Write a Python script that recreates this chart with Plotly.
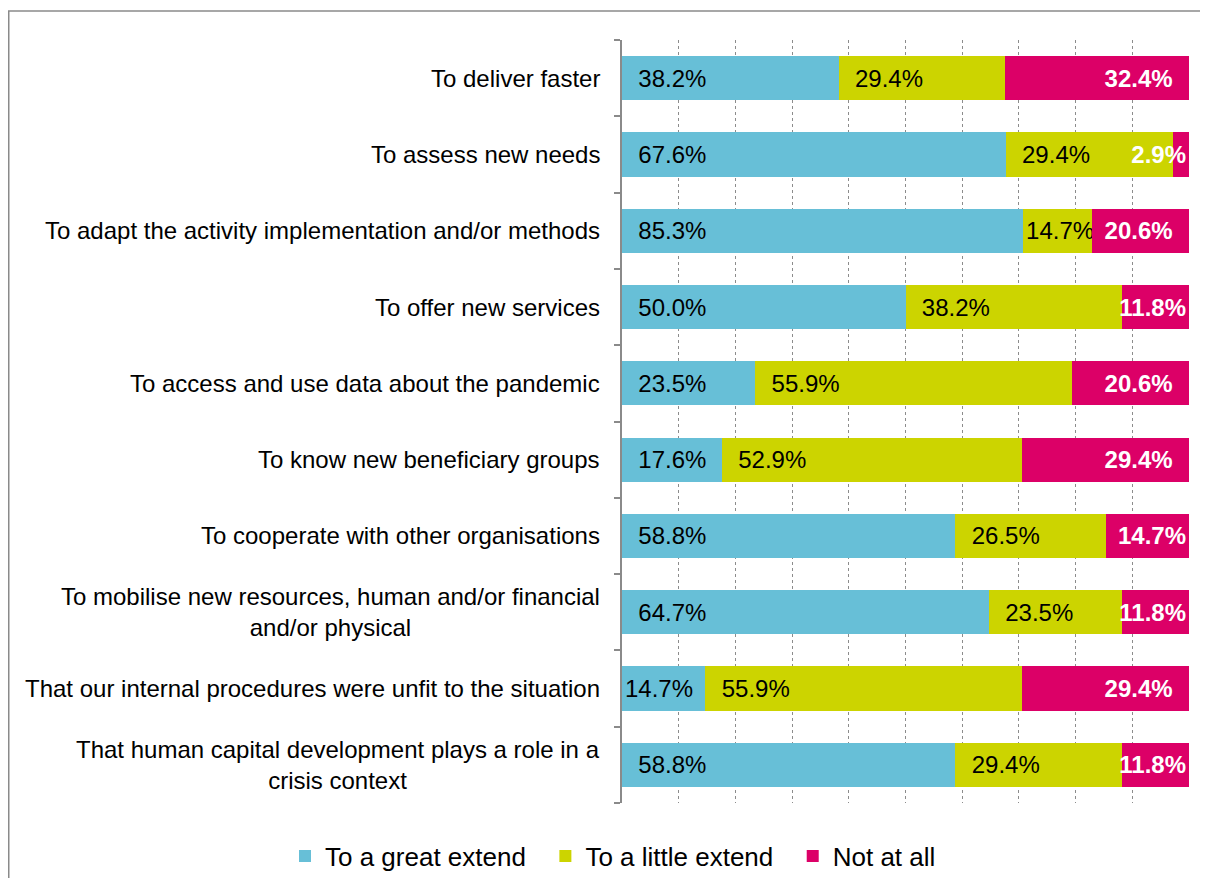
import plotly.graph_objects as go

categories = [
    "To deliver faster",
    "To assess new needs",
    "To adapt the activity implementation and/or methods",
    "To offer new services",
    "To access and use data about the pandemic",
    "To know new beneficiary groups",
    "To cooperate with other organisations",
    "To mobilise new resources, human and/or financial<br>and/or physical",
    "That our internal procedures were unfit to the situation",
    "That human capital development plays a role in a<br>crisis context",
]
great = [38.2, 67.6, 85.3, 50.0, 23.5, 17.6, 58.8, 64.7, 14.7, 58.8]
little = [29.4, 29.4, 14.7, 38.2, 55.9, 52.9, 26.5, 23.5, 55.9, 29.4]
notatall = [32.4, 2.9, 20.6, 11.8, 20.6, 29.4, 14.7, 11.8, 29.4, 11.8]
series_names = ["To a great extend", "To a little extend", "Not at all"]

BLUE = "#67BFD7"
YELLOW = "#CCD400"
RED = "#DC0067"
FONT = "Liberation Sans, Arial, sans-serif"
VSIZE = 24

# figure is placed 8px into the page by the body margin
W, H = 1192, 870
ML, MR, MT, MB = 614, 11, 32, 75
PW = W - ML - MR
PH = H - MT - MB

totals = [a + b + c for a, b, c in zip(great, little, notatall)]
NB = "\u00a0"


def label(v, tot, bold=False, end=False):
    s = f"{v:.1f}%"
    seg_px = v / tot * PW
    # approximate text width (Arial metrics: digits .556, '.' .278, '%' .889)
    tw = (0.556 * (len(s) - 2) + 0.278 + 0.889) * VSIZE
    pad = NB * 2 if tw + 2 * 0.278 * VSIZE + 4 < seg_px else ""
    core = f"<b>{s}</b>" if bold else s
    return core + pad if end else pad + core


ykeys = list(range(len(categories)))

fig = go.Figure()
fig.add_trace(go.Bar(
    y=ykeys, x=great, name=series_names[0] + NB * 2, orientation="h",
    marker=dict(color=BLUE, line=dict(width=0)),
    text=[label(v, t) for v, t in zip(great, totals)], textposition="inside",
    insidetextanchor="start", textangle=0,
    textfont=dict(family=FONT, size=VSIZE, color="#000000"),
))
fig.add_trace(go.Bar(
    y=ykeys, x=little, name=series_names[1] + NB * 2, orientation="h",
    marker=dict(color=YELLOW, line=dict(width=0)),
    text=[label(v, t) for v, t in zip(little, totals)], textposition="inside",
    insidetextanchor="start", textangle=0,
    textfont=dict(family=FONT, size=VSIZE, color="#000000"),
))
fig.add_trace(go.Bar(
    y=ykeys, x=notatall, name=series_names[2], orientation="h",
    marker=dict(color=RED, line=dict(width=0)),
    text=[label(v, t, bold=True, end=True) for v, t in zip(notatall, totals)],
    textposition="inside", insidetextanchor="end", textangle=0,
    textfont=dict(family=FONT, size=VSIZE, color="#FFFFFF"),
))

annotations = []
for i, c in enumerate(categories):
    annotations.append(dict(
        x=0, xref="paper", xshift=-20, xanchor="right",
        y=i, yref="y", yanchor="middle",
        text=c, showarrow=False, align="center",
        font=dict(family=FONT, size=24, color="#000000"),
    ))

fig.update_layout(
    width=W, height=H,
    barmode="stack", barnorm="percent", bargap=0.42,
    plot_bgcolor="#FFFFFF", paper_bgcolor="#FFFFFF",
    margin=dict(l=ML, r=MR, t=MT, b=MB, pad=0, autoexpand=False),
    uniformtext=dict(minsize=VSIZE, mode="show"),
    font=dict(family=FONT, size=24, color="#000000"),
    showlegend=True,
    legend=dict(
        orientation="h", xref="paper", yref="paper",
        x=(277 - ML) / PW, xanchor="left",
        y=(PH + MT - (856 - 8)) / PH, yanchor="middle",
        font=dict(family=FONT, size=26, color="#000000"),
        traceorder="normal", itemwidth=30,
    ),
    annotations=annotations,
    shapes=[dict(
        type="rect", xref="paper", yref="paper",
        x0=(0.75 - ML) / PW, x1=1.2, y0=-0.3, y1=(PH + MT - 3) / PH,
        line=dict(color="#8A8A8A", width=1.5), fillcolor="rgba(0,0,0,0)",
        layer="below",
    )],
)
fig.update_xaxes(
    range=[0, 100], dtick=10, tick0=0, showticklabels=False,
    showgrid=True, gridcolor="#8C8C8C", griddash="dot", gridwidth=1.3,
    zeroline=False, showline=False, ticks="",
)
fig.update_yaxes(
    tickmode="array", tickvals=[i - 0.5 for i in range(len(categories) + 1)],
    showticklabels=False, showgrid=False, zeroline=False,
    showline=True, linecolor="#8A8A8A", linewidth=1.5,
    ticks="outside", ticklen=6, tickcolor="#8A8A8A", tickwidth=1.5,
    autorange=False, range=[len(categories) - 0.5, -0.5],
)

fig.write_html("out.html")
